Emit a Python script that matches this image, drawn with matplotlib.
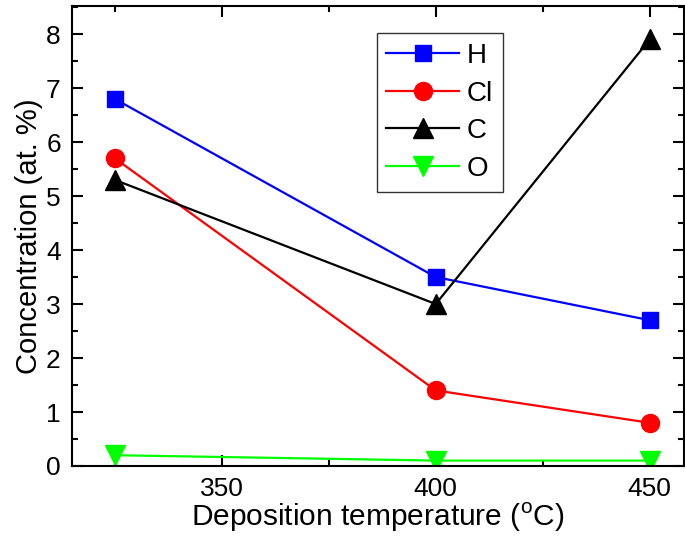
import matplotlib
matplotlib.use("Agg")
import matplotlib.pyplot as plt
from matplotlib.ticker import MultipleLocator

temps = [325, 400, 450]
H = [6.8, 3.5, 2.7]
Cl = [5.7, 1.4, 0.8]
C = [5.3, 3.0, 7.9]
O = [0.2, 0.1, 0.1]

plt.rcParams['font.family'] = ['Liberation Sans', 'DejaVu Sans']
plt.rcParams['mathtext.fontset'] = 'custom'
plt.rcParams['mathtext.rm'] = 'Liberation Sans'

fig = plt.figure(figsize=(6.85, 5.36), dpi=100)
ax = fig.add_axes([0.105, 0.1306, 0.8935, 0.8582])

ax.plot(temps, H, color='#0000ff', marker='s', ms=12, lw=1.6, label='H')
ax.plot(temps, Cl, color='#ff0000', marker='o', ms=13, lw=1.6, label='Cl')
ax.plot(temps, C, color='black', marker='^', ms=15, lw=1.6, label='C')
ax.plot(temps, O, color='#00ff00', marker='v', ms=15, lw=1.6, label='O')

ax.set_xlim(315, 458)
ax.set_ylim(0, 8.52)
ax.xaxis.set_major_locator(MultipleLocator(50))
ax.xaxis.set_minor_locator(MultipleLocator(25))
ax.yaxis.set_major_locator(MultipleLocator(1))
ax.yaxis.set_minor_locator(MultipleLocator(0.5))
ax.tick_params(which='both', direction='in', top=True, right=True, width=1.5, labelsize=19)
ax.tick_params(which='major', length=8)
ax.tick_params(which='minor', length=4)
ax.tick_params(axis='x', pad=8)
ax.tick_params(axis='y', pad=8)
for s in ax.spines.values():
    s.set_linewidth(1.5)

ax.set_xlabel(r'Deposition temperature ($^{\mathrm{o}}$C)', fontsize=21.5, labelpad=0)
ax.set_ylabel('Concentration (at. %)', fontsize=21, labelpad=2)

leg = ax.legend(loc='upper left', bbox_to_anchor=(0.498, 0.941), fontsize=20,
                frameon=True, fancybox=False, edgecolor='black', handlelength=2.6,
                labelspacing=0.42, borderpad=0.35, handletextpad=0.3, borderaxespad=0)
leg.get_frame().set_linewidth(1.0)

fig.savefig('out.png', dpi=100)
